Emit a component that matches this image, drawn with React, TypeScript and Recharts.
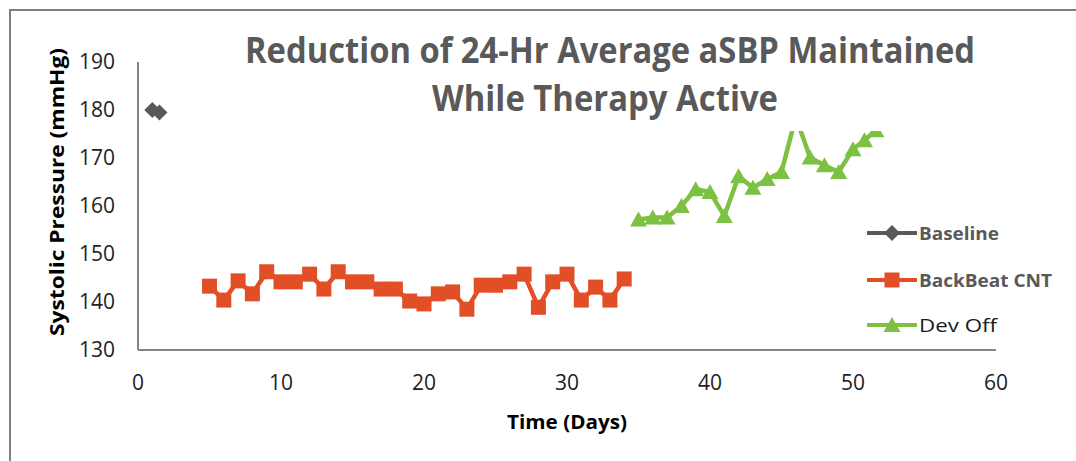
import { LineChart, Line, XAxis, YAxis, Legend } from "recharts";

// Baseline readings (days, mmHg)
const baselineDays = [1, 1.5];
const baselineSbp = [180, 179.5];

// BackBeat CNT therapy active
const cntDays = [5, 6, 7, 8, 9, 10, 11, 12, 13, 14, 15, 16, 17, 18, 19, 20, 21, 22, 23, 24, 25, 26, 27, 28, 29, 30, 31, 32, 33, 34];
const cntSbp = [143.3, 140.4, 144.4, 141.7, 146.3, 144.2, 144.2, 145.8, 142.7, 146.3, 144.2, 144.2, 142.7, 142.7, 140.2, 139.6, 141.7, 142.1, 138.5, 143.5, 143.5, 144.2, 145.8, 138.9, 144.2, 145.8, 140.4, 143.1, 140.4, 144.8];

// Device switched off
const devOffDays = [35, 36, 37, 38, 39, 40, 41, 42, 43, 44, 45, 46, 47, 48, 49, 50, 50.8, 51.6];
const devOffSbp = [157.2, 157.6, 157.6, 160, 163.5, 162.9, 157.9, 166.2, 163.8, 165.6, 167.1, 178.5, 170.1, 168.5, 167.1, 171.8, 173.7, 175.8];

const seriesNames = ["Baseline", "BackBeat CNT", "Dev Off"];
const xTicks = [0, 10, 20, 30, 40, 50, 60];
const yTicks = [130, 140, 150, 160, 170, 180, 190];

const GRAY = "#595959";
const RED = "#E24E26";
const GREEN = "#7DC142";
const FONT = "'Open Sans', sans-serif";

const zip = (days: number[], vals: number[]) => days.map((day, i) => ({ day, sbp: vals[i] }));

const baselineData = zip(baselineDays, baselineSbp);
const cntData = zip(cntDays, cntSbp);
const devOffData = zip(devOffDays, devOffSbp);

const Diamond = ({ cx, cy, fill }: any) => (
  <polygon points={`${cx},${cy - 8} ${cx + 8},${cy} ${cx},${cy + 8} ${cx - 8},${cy}`} fill={fill} />
);
const Square = ({ cx, cy, fill }: any) => <rect x={cx - 7.5} y={cy - 7.5} width={15} height={15} fill={fill} />;
const Triangle = ({ cx, cy, fill }: any) => (
  <polygon points={`${cx},${cy - 8} ${cx + 8.5},${cy + 7} ${cx - 8.5},${cy + 7}`} fill={fill} />
);

const markers: Record<string, any> = { Baseline: Diamond, "BackBeat CNT": Square, "Dev Off": Triangle };
const legendText: Record<string, { color: string; weight: number; len: number }> = {
  Baseline: { color: GRAY, weight: 700, len: 80 },
  "BackBeat CNT": { color: GRAY, weight: 700, len: 133 },
  "Dev Off": { color: "#1a1a1a", weight: 400, len: 78 },
};

const dotOf = (name: string, color: string) => (p: any) => {
  const M = markers[name];
  return <M key={`${name}-${p.index}`} cx={p.cx} cy={p.cy} fill={color} />;
};

const renderLegend = (props: any) => {
  const items = [...(props.payload || [])].sort(
    (a: any, b: any) => seriesNames.indexOf(a.value) - seriesNames.indexOf(b.value)
  );
  const rows = [15, 62, 107];
  return (
    <svg width={210} height={125}>
      {items.map((it: any, i: number) => {
        const M = markers[it.value];
        const t = legendText[it.value];
        const y = rows[i];
        return (
          <g key={it.value}>
            <line x1={5} x2={55} y1={y} y2={y} stroke={it.color} strokeWidth={4} />
            <M cx={30} cy={y} fill={it.color} />
            <text x={57} y={y + 6.5} fontSize={18} fontWeight={t.weight} fill={t.color} textLength={t.len} lengthAdjust="spacingAndGlyphs">
              {it.value}
            </text>
          </g>
        );
      })}
    </svg>
  );
};

export default function App() {
  return (
    <div style={{ position: "absolute", left: 0, top: 0, width: 1076, height: 461, background: "#fff", fontFamily: FONT }}>
      <LineChart width={1076} height={461} margin={{ top: 62, right: 80, bottom: 51, left: 78 }}>
        <XAxis
          type="number"
          dataKey="day"
          domain={[0, 60]}
          ticks={xTicks}
          interval={0}
          height={60}
          tickLine={false}
          tickSize={0}
          tickMargin={25}
          axisLine={{ stroke: "#858585", strokeWidth: 2 }}
          tick={{ fill: "#222", fontSize: 21 }}
          allowDuplicatedCategory={false}
        />
        <YAxis
          type="number"
          domain={[130, 190]}
          ticks={yTicks}
          interval={0}
          width={60}
          tickLine={false}
          tickSize={0}
          tickMargin={23}
          axisLine={{ stroke: "#858585", strokeWidth: 2 }}
          tick={{ fill: "#222", fontSize: 21 }}
        />
        <Legend
          layout="vertical"
          align="center"
          verticalAlign="middle"
          content={renderLegend}
          wrapperStyle={{ position: "absolute", left: 862, top: 218, width: 210 }}
        />
        <Line data={baselineData} dataKey="sbp" name="Baseline" stroke={GRAY} strokeWidth={4} dot={dotOf("Baseline", GRAY)} activeDot={false} isAnimationActive={false} />
        <Line data={cntData} dataKey="sbp" name="BackBeat CNT" stroke={RED} strokeWidth={4.5} dot={dotOf("BackBeat CNT", RED)} activeDot={false} isAnimationActive={false} />
        <Line data={devOffData} dataKey="sbp" name="Dev Off" stroke={GREEN} strokeWidth={4.5} dot={dotOf("Dev Off", GREEN)} activeDot={false} isAnimationActive={false} />
      </LineChart>
      <svg width={1076} height={461} style={{ position: "absolute", left: 0, top: 0, pointerEvents: "none" }}>
        <path d="M10 461 V10 H1076" fill="none" stroke="#7f7f7f" strokeWidth={2} />
        <rect x={232} y={24} width={753} height={107} fill="#fff" />
        <text x={610} y={63} textAnchor="middle" fontSize={36} fontWeight={700} fill={GRAY} textLength={730} lengthAdjust="spacingAndGlyphs">
          Reduction of 24-Hr Average aSBP Maintained
        </text>
        <text x={605} y={111} textAnchor="middle" fontSize={36} fontWeight={700} fill={GRAY} textLength={346} lengthAdjust="spacingAndGlyphs">
          While Therapy Active
        </text>
        <text transform="translate(64,192) rotate(-90)" textAnchor="middle" fontSize={20} fontWeight={700} fill="#000" textLength={288} lengthAdjust="spacingAndGlyphs">
          Systolic Pressure (mmHg)
        </text>
        <text x={567} y={429} textAnchor="middle" fontSize={20} fontWeight={700} fill="#000" textLength={120} lengthAdjust="spacingAndGlyphs">
          Time (Days)
        </text>
      </svg>
    </div>
  );
}
